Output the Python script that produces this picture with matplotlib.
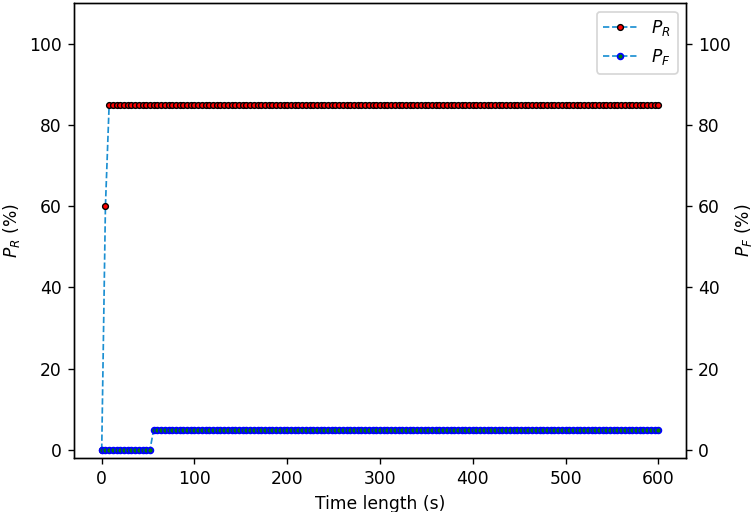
import matplotlib.pyplot as plt

# time axis (s), one sample every 4 s
time_s = list(range(0, 604, 4))
p_r = [0, 60] + [85] * 149
p_f = [0] * 14 + [5] * 137

line_color = '#1b8fd2'

fig, ax = plt.subplots(figsize=(754 / 123, 512 / 123), dpi=123)
fig.subplots_adjust(left=0.098, right=0.91, top=0.994, bottom=0.1055)

ax.plot(time_s, p_r, '--', color=line_color, marker='o', markersize=3.4,
        markerfacecolor='red', markeredgecolor='black', markeredgewidth=0.8,
        linewidth=1, label=r'$P_R$')
ax.plot(time_s, p_f, '--', color=line_color, marker='o', markersize=3.4,
        markerfacecolor='green', markeredgecolor='blue', markeredgewidth=1.0,
        linewidth=1, label=r'$P_F$')

ax.set_ylim(-2, 110)
ax.set_xlabel('Time length (s)')
ax.set_ylabel(r'$P_R$ (%)')
ax.set_yticks([0, 20, 40, 60, 80, 100])

ax2 = ax.twinx()
ax2.set_ylim(-2, 110)
ax2.set_yticks([0, 20, 40, 60, 80, 100])
ax2.set_ylabel(r'$P_F$ (%)', labelpad=1)

ax.legend(loc='upper right')

plt.savefig('out.png', dpi=123)
